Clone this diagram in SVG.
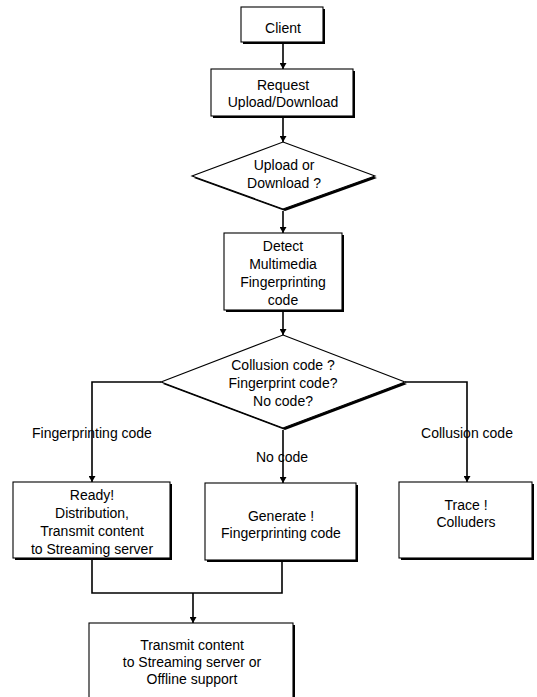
<svg xmlns="http://www.w3.org/2000/svg" width="537" height="697" viewBox="0 0 537 697">
<defs>
<marker id="ah" markerWidth="6" markerHeight="7" refX="6" refY="3.5" orient="auto" markerUnits="userSpaceOnUse"><path d="M0,0 L6,3.5 L0,7 z" fill="#000"/></marker>
<style>
.box{fill:#fff;stroke:#000;stroke-width:1.1}
.sh{fill:#000}
.t{font-family:"Liberation Sans",Arial,sans-serif;font-size:14px;fill:#000;text-anchor:middle}
.c{fill:none;stroke:#000;stroke-width:1.6}
</style>
</defs>
<rect width="537" height="697" fill="#fff"/>

<g id="client">
<rect class="sh" x="243" y="9" width="82" height="35"/>
<rect class="box" x="241" y="7" width="82" height="35"/>
<text class="t" x="283" y="33">Client</text>
</g>

<g id="request">
<rect class="sh" x="213" y="71" width="142" height="47"/>
<rect class="box" x="211" y="69" width="142" height="47"/>
<text class="t" x="283" y="90">Request</text>
<text class="t" x="283" y="107">Upload/Download</text>
</g>

<g id="decision1">
<polygon class="sh" points="285,144 377,178 285,211 194,178"/>
<polygon class="box" points="283,142 375,176 283,209 192,176"/>
<text class="t" x="284" y="170">Upload or</text>
<text class="t" x="284" y="188">Download ?</text>
</g>

<g id="detect">
<rect class="sh" x="226" y="235" width="118" height="77"/>
<rect class="box" x="224" y="233" width="118" height="77"/>
<text class="t" x="283" y="251">Detect</text>
<text class="t" x="283" y="269">Multimedia</text>
<text class="t" x="283" y="287">Fingerprinting</text>
<text class="t" x="283" y="305">code</text>
</g>

<g id="decision2">
<polygon class="sh" points="285,337 407,384 285,430 163,384"/>
<polygon class="box" points="283,335 405,382 283,428 161,382"/>
<text class="t" x="283" y="370">Collusion code ?</text>
<text class="t" x="283" y="388">Fingerprint code?</text>
<text class="t" x="283" y="406">No code?</text>
</g>

<g id="ready">
<rect class="sh" x="15" y="484" width="157" height="76"/>
<rect class="box" x="13" y="482" width="157" height="76"/>
<text class="t" x="92" y="500">Ready!</text>
<text class="t" x="92" y="518">Distribution,</text>
<text class="t" x="92" y="536">Transmit content</text>
<text class="t" x="92" y="554">to Streaming server</text>
</g>

<g id="generate">
<rect class="sh" x="207" y="485" width="151" height="77"/>
<rect class="box" x="205" y="483" width="151" height="77"/>
<text class="t" x="281" y="521">Generate !</text>
<text class="t" x="281" y="538">Fingerprinting code</text>
</g>

<g id="trace">
<rect class="sh" x="401" y="484" width="133" height="76"/>
<rect class="box" x="399" y="482" width="133" height="76"/>
<text class="t" x="466" y="510">Trace !</text>
<text class="t" x="466" y="527">Colluders</text>
</g>

<g id="transmit">
<rect class="sh" x="91" y="625" width="204" height="90"/>
<rect class="box" x="89" y="623" width="204" height="90"/>
<text class="t" x="192" y="650">Transmit content</text>
<text class="t" x="192" y="667">to Streaming server or</text>
<text class="t" x="192" y="684">Offline support</text>
</g>

<g id="labels">
<text class="t" x="92" y="438">Fingerprinting code</text>
<text class="t" x="282" y="462">No code</text>
<text class="t" x="467" y="438">Collusion code</text>
</g>

<g id="connectors">
<path class="c" d="M283,44 V69" marker-end="url(#ah)"/>
<path class="c" d="M283,118 V142" marker-end="url(#ah)"/>
<path class="c" d="M283,211 V233" marker-end="url(#ah)"/>
<path class="c" d="M283,312 V335" marker-end="url(#ah)"/>
<path class="c" d="M161,382 H92 V482" marker-end="url(#ah)"/>
<path class="c" d="M283,430 V483" marker-end="url(#ah)"/>
<path class="c" d="M405,382 H467 V482" marker-end="url(#ah)"/>
<path class="c" d="M92,560 V593 H282 V562"/>
<path class="c" d="M193,593 V623" marker-end="url(#ah)"/>
</g>
</svg>
